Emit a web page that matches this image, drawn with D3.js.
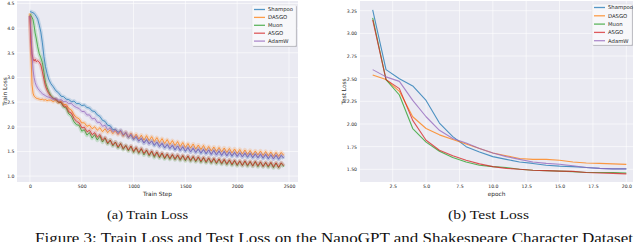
<!DOCTYPE html>
<html><head><meta charset="utf-8">
<script src="https://cdn.jsdelivr.net/npm/d3@7"></script>
<style>body{margin:0;background:#fff}svg{display:block}</style>
</head><body>
<svg id="c" width="640" height="242"></svg>
<script>
const seriesNames = ["Shampoo","DASGO","Muon","ASGO","AdamW"];
const seriesColors = ["#1f77b4","#ff7f0e","#2ca02c","#d62728","#9467bd"];

const trainSteps = [0,10,20,30,40,50,60,75,90,105,120,135,150,165,180,
 200,225,250,275,300,325,350,375,400,425,450,475,500,525,550,575,600,625,650,675,
 700,725,750,775,800,825,850,875,900,925,950,975,1000,1025,1050,1075,1100,1125,1150,1175,
 1200,1225,1250,1275,1300,1325,1350,1375,1400,1425,1450,1475,1500,1525,1550,1575,1600,1625,1650,1675,
 1700,1725,1750,1775,1800,1825,1850,1875,1900,1925,1950,1975,2000,2025,2050,2075,2100,2125,2150,2175,
 2200,2225,2250,2275,2300,2325,2350,2375,2400,2425,2450];

const trainShampoo = [4.33,4.33,4.32,4.31,4.30,4.27,4.24,4.18,4.06,3.92,3.70,3.42,3.22,3.08,2.97,
 2.88,2.81,2.73,2.69,2.62,2.61,2.56,2.55,2.51,2.52,
 2.47,2.47,2.43,2.44,2.39,2.38,2.32,2.31,2.24,2.21,
 2.13,2.11,2.03,2.02,1.94,1.95,1.89,1.92,1.83,1.87,
 1.78,1.83,1.74,1.79,1.71,1.76,1.67,1.74,1.66,1.71,
 1.62,1.69,1.60,1.66,1.57,1.64,1.56,1.62,1.53,1.61,
 1.52,1.59,1.50,1.58,1.49,1.56,1.48,1.55,1.46,1.54,
 1.45,1.53,1.44,1.52,1.43,1.51,1.42,1.50,1.41,1.49,
 1.40,1.48,1.40,1.47,1.39,1.46,1.38,1.46,1.37,1.45,
 1.37,1.44,1.36,1.44,1.35,1.43,1.35,1.42,1.34,1.42,
 1.36];
const trainDASGO = [4.30,3.50,2.85,2.68,2.62,2.60,2.58,2.57,2.56,2.55,2.56,2.54,2.55,2.53,2.54,
 2.54,2.51,2.54,2.49,2.52,2.45,2.45,2.37,2.34,2.24,
 2.19,2.16,2.08,2.08,2.01,2.03,1.96,2.00,1.93,1.98,
 1.90,1.96,1.88,1.94,1.86,1.92,1.84,1.91,1.81,1.89,
 1.79,1.87,1.77,1.85,1.75,1.83,1.73,1.82,1.72,1.80,
 1.70,1.78,1.68,1.76,1.66,1.74,1.64,1.72,1.62,1.70,
 1.60,1.68,1.58,1.66,1.57,1.65,1.55,1.63,1.54,1.62,
 1.52,1.60,1.51,1.59,1.50,1.58,1.49,1.57,1.48,1.56,
 1.47,1.55,1.46,1.54,1.45,1.53,1.44,1.52,1.43,1.51,
 1.43,1.51,1.42,1.50,1.41,1.49,1.40,1.48,1.40,1.48,
 1.42];
const trainMuon = [4.28,4.26,4.22,4.17,4.05,3.90,3.80,3.62,3.48,3.40,3.30,3.10,2.90,2.80,2.72,
 2.64,2.58,2.56,2.50,2.49,2.40,2.38,2.26,2.22,2.10,
 2.04,2.03,1.91,1.94,1.83,1.88,1.77,1.84,1.73,1.81,
 1.69,1.77,1.65,1.73,1.61,1.69,1.57,1.66,1.54,1.62,
 1.51,1.60,1.48,1.57,1.46,1.55,1.43,1.52,1.41,1.50,
 1.38,1.48,1.37,1.46,1.35,1.44,1.34,1.43,1.33,1.42,
 1.32,1.41,1.31,1.40,1.30,1.39,1.29,1.38,1.28,1.37,
 1.27,1.36,1.26,1.35,1.25,1.34,1.24,1.33,1.23,1.32,
 1.22,1.31,1.21,1.30,1.21,1.30,1.20,1.29,1.20,1.29,
 1.19,1.28,1.19,1.27,1.18,1.27,1.17,1.26,1.17,1.26,
 1.19];
const trainASGO = [4.25,3.75,3.48,3.38,3.33,3.37,3.32,3.34,3.31,3.25,3.12,2.96,2.82,2.74,2.68,
 2.62,2.57,2.56,2.50,2.50,2.42,2.41,2.30,2.28,2.17,
 2.11,2.08,1.98,1.99,1.90,1.93,1.84,1.88,1.79,1.84,
 1.73,1.78,1.67,1.73,1.63,1.69,1.59,1.66,1.56,1.62,
 1.53,1.61,1.50,1.58,1.48,1.56,1.46,1.53,1.43,1.51,
 1.41,1.49,1.39,1.47,1.37,1.45,1.36,1.44,1.35,1.43,
 1.34,1.42,1.33,1.41,1.32,1.40,1.31,1.39,1.30,1.38,
 1.29,1.37,1.28,1.36,1.27,1.35,1.26,1.34,1.25,1.33,
 1.24,1.32,1.23,1.31,1.22,1.31,1.22,1.30,1.21,1.30,
 1.21,1.29,1.20,1.28,1.20,1.28,1.19,1.27,1.18,1.27,
 1.21];
const trainAdamW = [4.25,3.90,3.45,3.15,3.00,2.90,2.84,2.78,2.74,2.70,2.67,2.65,2.63,2.61,2.60,
 2.59,2.56,2.57,2.54,2.55,2.51,2.51,2.47,2.47,2.42,
 2.39,2.37,2.31,2.31,2.24,2.24,2.16,2.17,2.09,2.09,
 2.01,2.03,1.94,1.98,1.90,1.94,1.86,1.93,1.83,1.89,
 1.79,1.85,1.75,1.81,1.71,1.77,1.67,1.74,1.65,1.71,
 1.63,1.69,1.60,1.67,1.58,1.64,1.56,1.63,1.54,1.61,
 1.52,1.60,1.51,1.58,1.49,1.57,1.48,1.55,1.47,1.54,
 1.46,1.53,1.44,1.52,1.43,1.51,1.42,1.50,1.41,1.49,
 1.41,1.48,1.40,1.47,1.39,1.47,1.39,1.46,1.38,1.45,
 1.37,1.45,1.37,1.44,1.36,1.43,1.35,1.43,1.35,1.42,
 1.37];

const epochs = [1,2,3,4,5,6,7,8,9,10,11,12,13,14,15,16,17,18,19,20];
const testShampoo = [3.26,2.60,2.50,2.42,2.26,2.01,1.86,1.75,1.69,1.64,1.61,1.58,1.565,1.545,1.535,1.53,1.52,1.51,1.505,1.505];
const testDASGO   = [2.54,2.49,2.36,2.08,1.95,1.88,1.83,1.78,1.73,1.68,1.65,1.62,1.61,1.61,1.60,1.58,1.57,1.565,1.56,1.555];
const testMuon    = [3.17,2.49,2.32,1.95,1.80,1.70,1.63,1.58,1.545,1.53,1.52,1.50,1.49,1.485,1.48,1.475,1.465,1.465,1.465,1.46];
const testASGO    = [3.15,2.49,2.39,2.04,1.82,1.71,1.65,1.60,1.56,1.53,1.51,1.50,1.49,1.485,1.48,1.477,1.465,1.46,1.455,1.45];
const testAdamW   = [2.60,2.52,2.47,2.26,2.08,1.93,1.84,1.79,1.73,1.68,1.64,1.61,1.58,1.565,1.555,1.54,1.52,1.51,1.505,1.505];

const trainXTicks = [0,500,1000,1500,2000,2500];
const trainYTicks = [1.0,1.5,2.0,2.5,3.0,3.5,4.0,4.5];
const testXTicks = [2.5,5.0,7.5,10.0,12.5,15.0,17.5,20.0];
const testYTicks = [1.50,1.75,2.00,2.25,2.50,2.75,3.00,3.25];

const trainSeries = [trainShampoo,trainDASGO,trainMuon,trainASGO,trainAdamW];
const testSeries = [testShampoo,testDASGO,testMuon,testASGO,testAdamW];

const svg = d3.select("#c");
const FONT = "DejaVu Sans, sans-serif";

function panel(o) {
  const g = svg.append("g");
  const x = d3.scaleLinear(o.xDom, [o.left, o.right]);
  const y = d3.scaleLinear(o.yDom, [o.bottom, o.top]);
  g.append("rect").attr("x", o.left).attr("y", o.top)
    .attr("width", o.right - o.left).attr("height", o.bottom - o.top).attr("fill", "#eaeaf2");
  g.append("g").selectAll("line").data(o.xTicks).join("line")
    .attr("x1", d => x(d)).attr("x2", d => x(d)).attr("y1", o.top).attr("y2", o.bottom)
    .attr("stroke", "#fff").attr("stroke-width", 0.6);
  g.append("g").selectAll("line").data(o.yTicks).join("line")
    .attr("y1", d => y(d)).attr("y2", d => y(d)).attr("x1", o.left).attr("x2", o.right)
    .attr("stroke", "#fff").attr("stroke-width", 0.6);
  const ax = g.append("g").attr("transform", `translate(0,${o.bottom})`)
    .call(d3.axisBottom(x).tickValues(o.xTicks).tickFormat(o.xFmt).tickSize(0).tickPadding(2.6));
  const ay = g.append("g").attr("transform", `translate(${o.left},0)`)
    .call(d3.axisLeft(y).tickValues(o.yTicks).tickFormat(o.yFmt).tickSize(0).tickPadding(o.yPad));
  [ax, ay].forEach(a => {
    a.select(".domain").remove();
    a.selectAll("text").attr("font-family", FONT).attr("font-size", 4.6).attr("fill", "#262626");
  });
  const cid = "clip" + o.id;
  svg.append("clipPath").attr("id", cid).append("rect")
    .attr("x", o.left).attr("y", o.top).attr("width", o.right - o.left).attr("height", o.bottom - o.top);
  const lines = g.append("g").attr("clip-path", `url(#${cid})`);
  const line = d3.line().x((d, i) => x(o.xs[i])).y(d => y(d));
  o.series.forEach((s, k) => {
    if (o.band) {
      lines.append("path").attr("d", line(s)).attr("fill", "none")
        .attr("stroke", seriesColors[k]).attr("stroke-width", 4).attr("stroke-opacity", 0.18)
        .attr("stroke-linejoin", "round");
    }
    lines.append("path").attr("d", line(s)).attr("fill", "none")
      .attr("stroke", seriesColors[k]).attr("stroke-width", o.lw).attr("stroke-opacity", o.alpha)
      .attr("stroke-linejoin", "round");
  });
  g.append("text").attr("x", (o.left + o.right) / 2).attr("y", 195.5).attr("text-anchor", "middle")
    .attr("font-family", FONT).attr("font-size", 5.8).attr("fill", "#262626").text(o.xLabel);
  g.append("text").attr("transform", `translate(${o.yLabelX},${(o.top + o.bottom) / 2}) rotate(-90)`)
    .attr("text-anchor", "middle").attr("dy", "0.35em")
    .attr("font-family", FONT).attr("font-size", 5.8).attr("fill", "#262626").text(o.yLabel);
  const L = o.legend;
  g.append("rect").attr("x", L.x + 1).attr("y", L.y + 1).attr("width", L.w).attr("height", L.h)
    .attr("fill", "#b8b8c0").attr("rx", 1);
  g.append("rect").attr("x", L.x).attr("y", L.y).attr("width", L.w).attr("height", L.h)
    .attr("fill", "#f7f7fa").attr("stroke", "#d8d8dc").attr("stroke-width", 0.4).attr("rx", 1);
  seriesNames.forEach((n, k) => {
    const yy = L.y + L.first + k * L.step;
    g.append("line").attr("x1", L.x + 2).attr("x2", L.x + 13).attr("y1", yy).attr("y2", yy)
      .attr("stroke", seriesColors[k]).attr("stroke-width", 1.3).attr("stroke-opacity", 0.75);
    g.append("text").attr("x", L.x + 16).attr("y", yy).attr("dy", "0.35em")
      .attr("font-family", FONT).attr("font-size", 5.3).attr("fill", "#262626").text(n);
  });
}

panel({
  id: "a", left: 17, right: 298, top: 1, bottom: 182,
  xDom: [-125, 2587], yDom: [0.88, 4.55],
  xTicks: trainXTicks, yTicks: trainYTicks, xFmt: d3.format("d"), yFmt: d3.format(".1f"), yPad: 2.5,
  xs: trainSteps, series: trainSeries, band: true, lw: 0.9, alpha: 0.85,
  xLabel: "Train Step", yLabel: "Train Loss", yLabelX: 4.5,
  legend: { x: 252, y: 5, w: 44, h: 41, first: 4.5, step: 7.9 }
});
panel({
  id: "b", left: 360, right: 633, top: 1, bottom: 182,
  xDom: [0.05, 20.5], yDom: [1.36, 3.357],
  xTicks: testXTicks, yTicks: testYTicks, xFmt: d3.format(".1f"), yFmt: d3.format(".2f"), yPad: 3,
  xs: epochs, series: testSeries, band: false, lw: 1.1, alpha: 0.78,
  xLabel: "epoch", yLabel: "Test Loss", yLabelX: 343.5,
  legend: { x: 592, y: 4, w: 40, h: 41, first: 3.5, step: 8.3 }
});

const SERIF = "Liberation Serif, DejaVu Serif, serif";
function cap(txt, x1, x2, yb, fs) {
  svg.append("text").attr("x", x1).attr("y", yb).attr("font-family", SERIF).attr("font-size", fs)
    .attr("fill", "#111").attr("textLength", x2 - x1).attr("lengthAdjust", "spacingAndGlyphs").text(txt);
}
cap("(a) Train Loss", 107, 188, 218.5, 13);
cap("(b) Test Loss", 448, 529, 218.5, 13);
cap("Figure 3: Train Loss and Test Loss on the NanoGPT and Shakespeare Character Dataset", 35, 633, 242.5, 14.5);
</script>
</body></html>
